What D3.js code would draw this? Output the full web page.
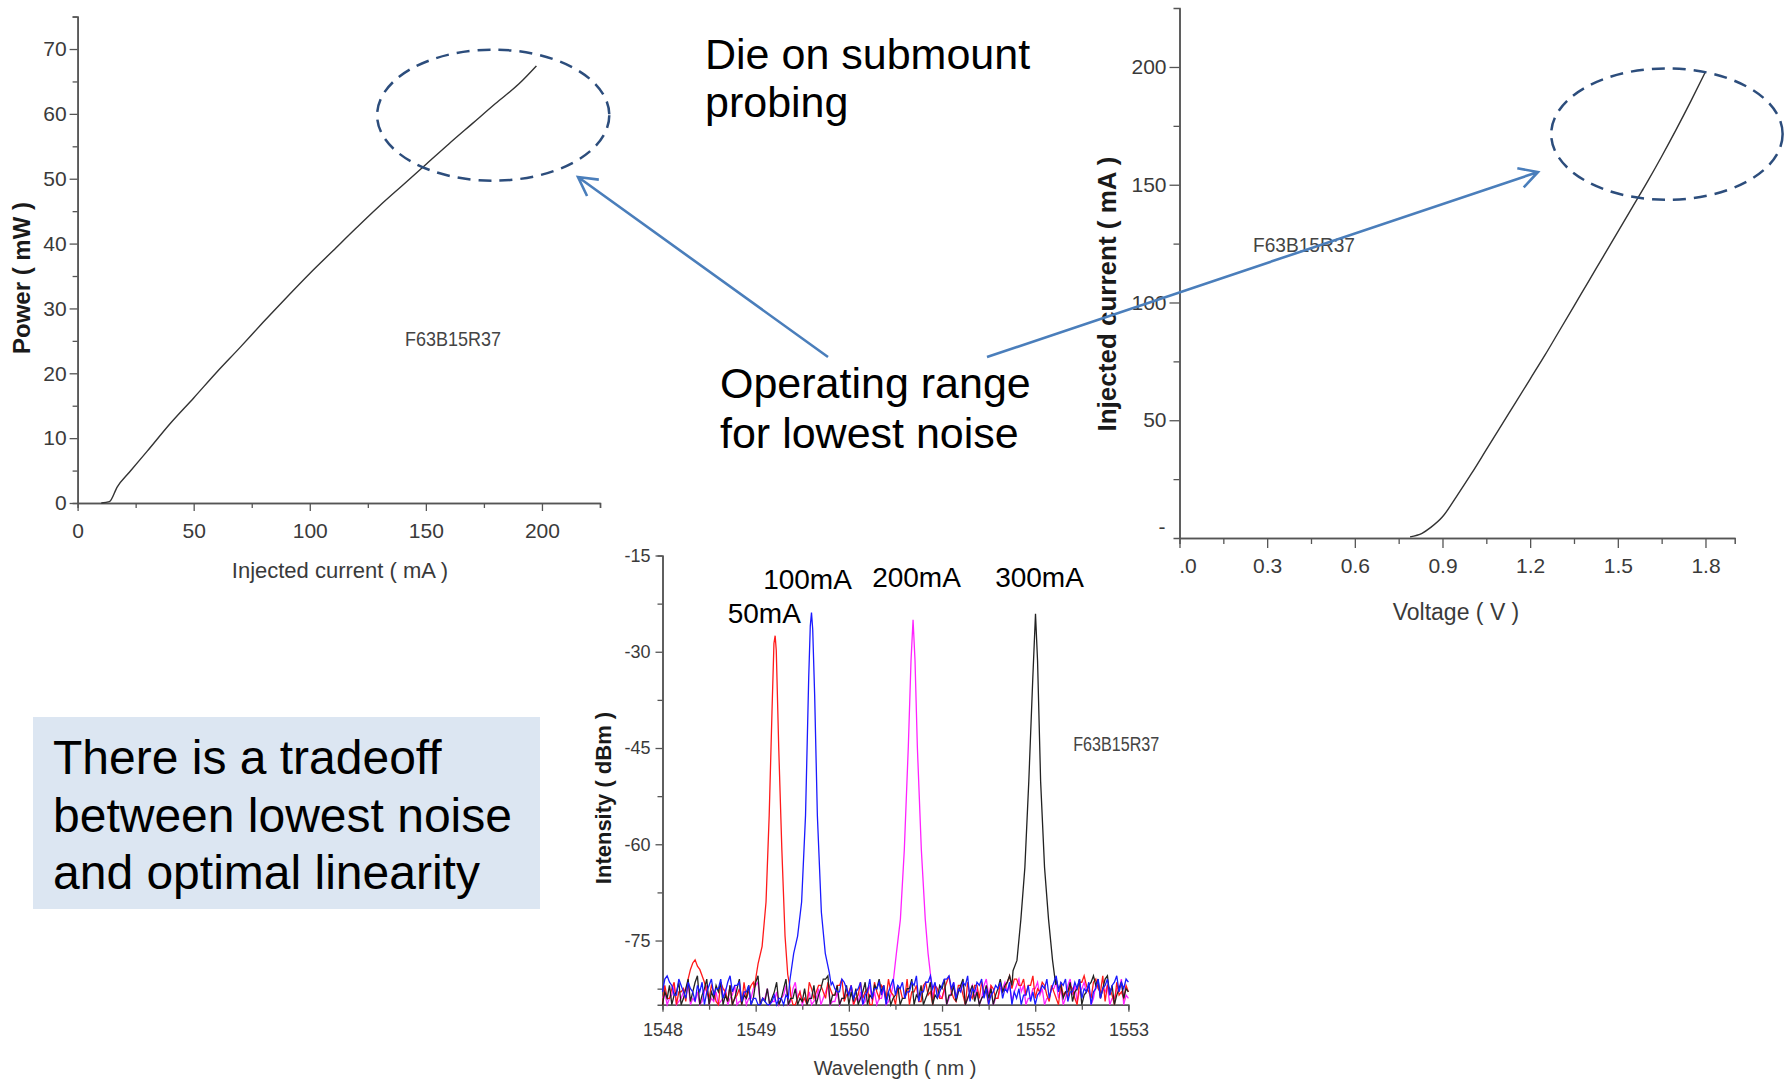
<!DOCTYPE html>
<html>
<head>
<meta charset="utf-8">
<script src="https://cdn.jsdelivr.net/npm/d3@7"></script>
<style>
body{margin:0;background:#fff;}
text{font-family:"Liberation Sans",Arial,sans-serif;}
</style>
</head>
<body>
<div id="svg_placer"></div>
<script>
// L-I curve (mA, mW)
var liCurrent = [10.2,13.7,17.1,22.2,30,40,50,60,70,80,90,100,110,120,130,140,150,160,170,180,190,197.6];
var liPower   = [0,0.2,2.5,4.7,8.0,12.3,16.2,20.2,24.0,27.9,31.7,35.4,38.9,42.4,45.8,49.0,52.2,55.4,58.5,61.6,64.6,67.4];
var liXTicks = [0,50,100,150,200], liXMinor = [25,75,125,175,225];
var liYTicks = [0,10,20,30,40,50,60,70], liYMinor = [5,15,25,35,45,55,65,75];

// I-V curve (V, mA)
var ivVoltage = [0.789,0.83,0.86,0.9,0.95,1.0,1.05,1.1,1.15,1.2,1.25,1.3,1.35,1.4,1.45,1.5,1.55,1.6,1.65,1.7,1.75,1.8];
var ivCurrent = [0.5,2,4.5,9,18,27.5,37.5,47.5,57.5,67.5,77.5,88,98.5,109,119.5,130,140.5,151,162,173.5,185.5,198];
var ivXTicks = [0,0.3,0.6,0.9,1.2,1.5,1.8], ivXMinor = [0.15,0.45,0.75,1.05,1.35,1.65];
var ivYTicks = [50,100,150,200], ivYMinor = [25,75,125,175];

// spectra: noise floor read every 0.05 nm from 1548 nm (A) and at the half steps (B)
var wlStart = 1548, wlStep = 0.05;
var specNames = ['50mA','100mA','200mA','300mA'];
var noise50A = [-85,-84,-82.5,-85,-83,-84.5,-79.5,-78,-79.5,-81.5,
 -84,-83,-85,-82.5,-84.5,-85,-83.5,-85,-84,-82,
 -84,-84,-84,-84,-84,-84,-84,-84,-85,-84,
 -84.5,-85,-82.5,-83,-82,-84,-82.5,-83.5,-82,-84.5,
 -83,-85,-83.5,-84,-82.5,-85,-83,-82,-84,-83,
 -85,-82.5,-84,-85,-83,-84.5,-82,-83.5,-85,-82.5,
 -84,-81.5,-83,-84.5,-82,-85,-83.5,-82,-84,-83,
 -85,-82.5,-84,-83,-81.5,-82.5,-81,-82,-83.5,-82,
 -84,-83,-82,-84.5,-83,-85,-83.5,-84,-82.5,-85,
 -81.5,-82,-84,-81,-83,-84.5,-82.5,-85,-83.5,-84,
 -83];
var noise50B = [-82,-84,-81.5,-83,-82.5,-81,-78.5,-79,-80.5,-83,
 -82,-84.5,-81.5,-83,-82,-84,-82.5,-81.5,-83,-81.5,
 -84,-84,-84,-84,-84,-84,-84,-83.5,-85,-83,
 -84,-81.5,-84,-82,-83,-81.5,-83.5,-82,-81,-83.5,
 -82,-84,-81.5,-83,-85,-81.5,-84,-82.5,-81,-83.5,
 -82.5,-84,-81,-83,-82,-84.5,-81.5,-83,-82,-84,
 -82.5,-80.5,-84,-82,-83.5,-81.5,-84,-82,-81.5,-83,
 -82,-84,-81.5,-82.5,-80.5,-81,-82,-81,-82,-80.5,
 -82.5,-81.5,-83.5,-82,-84,-81.5,-83,-82,-84,-81.5,
 -80.5,-83,-81.5,-82.5,-80.5,-82,-83.5,-81.5,-83,-82];
var noise100A = [-83,-80.5,-82,-83.5,-82,-84,-82.5,-84.5,-83,-85,
 -82,-83.5,-82.5,-84,-81.5,-83,-82,-84.5,-83,-85,
 -84,-85,-84.5,-85,-83.5,-84,-85,-84,-84,-84,
 -84,-84,-84,-84,-84,-84,-84,-82.5,-83,-81.5,
 -83.5,-84,-82.5,-85,-83,-84,-82.5,-83.5,-85,-82,
 -83.5,-82.5,-84,-83,-82,-84.5,-83,-81.5,-82.5,-84,
 -82,-81,-82.5,-84,-83,-82,-84.5,-83,-82,-84,
 -85,-83,-82.5,-84,-83,-85,-84,-85,-83.5,-84.5,
 -85,-83,-82.5,-84,-81.5,-83,-82,-84.5,-83,-82.5,
 -84,-83,-85,-82.5,-84,-82,-83.5,-81.5,-83,-82.5,
 -81.5];
var noise100B = [-81,-81.5,-83.5,-81,-83,-81.5,-83,-82,-81.5,-83,
 -81,-82.5,-81,-83,-80.5,-82,-81.5,-83,-82,-84,
 -85,-84,-85,-84.5,-85,-84,-83.5,-84,-84,-84,
 -84,-84,-84,-84,-84,-84,-81.5,-83,-81,-82.5,
 -82,-83,-81.5,-83.5,-81,-82.5,-81.5,-82,-83,-81,
 -82,-81.5,-83,-81.5,-80.5,-83,-81.5,-80.5,-81.5,-83,
 -81,-80.5,-81.5,-82.5,-81.5,-80.5,-82.5,-81.5,-81,-82.5,
 -83.5,-82,-81.5,-82.5,-81.5,-83,-82.5,-83.5,-82,-83,
 -83.5,-82,-81,-82.5,-80.5,-81.5,-81,-83,-81.5,-81,
 -82.5,-81.5,-83,-81,-82.5,-81,-82,-80.5,-81.5,-81];
var noise200A = [-84,-85,-83.5,-85,-84,-82.5,-85,-84.5,-85,-83,
 -85,-84.5,-85,-84,-85,-83.5,-85,-84.5,-85,-84,
 -82,-85,-84,-85,-84.5,-85,-83.5,-85,-82.5,-84,
 -85,-84.5,-85,-84,-85,-83,-85,-84.5,-85,-84,
 -83.5,-85,-84.5,-85,-83,-84.5,-85,-84,-85,-83.5,
 -84,-84,-84,-84,-84,-84,-84,-84,-84,-82.5,
 -84,-85,-83,-84.5,-82.5,-85,-83,-84,-85,-82,
 -83.5,-85,-84,-82.5,-83,-84.5,-82,-83,-85,-84,
 -82.5,-83.5,-85,-84,-82.5,-84,-85,-82,-83.5,-84.5,
 -82.5,-83,-85,-82,-84,-83,-85,-84,-82.5,-85,
 -84];
var noise200B = [-83,-84,-82,-84.5,-83,-81.5,-84,-83,-84.5,-82,
 -84,-83,-84.5,-82.5,-84,-82,-84.5,-83,-84,-82.5,
 -81.5,-84,-82.5,-84.5,-83,-84,-82,-84.5,-81.5,-83,
 -84,-83,-84.5,-82.5,-84,-82,-84.5,-83,-84,-82.5,
 -82,-84,-83,-84.5,-82,-83,-84,-82.5,-84.5,-82,
 -84,-84,-84,-84,-84,-84,-84,-84,-82,-83.5,
 -82.5,-84,-81.5,-83,-81.5,-84,-82,-82.5,-84,-81,
 -82,-84,-82.5,-81.5,-82,-83,-81,-82,-84,-82.5,
 -81.5,-82.5,-84,-82.5,-81.5,-82.5,-84,-81,-82,-83,
 -81.5,-82,-84,-81.5,-82.5,-82,-84,-82.5,-81,-83.5];
var noise300A = [-85,-84,-85,-83,-85,-82.5,-84.5,-81.5,-85,-82.5,
 -85,-84,-83,-85,-84.5,-85,-82.5,-85,-84,-85,
 -81.5,-85,-84.5,-85,-83,-85,-82.5,-85,-84,-85,
 -84.5,-85,-84,-85,-82.5,-81,-85,-83.5,-85,-84,
 -85,-84.5,-85,-83,-85,-84,-82.5,-83,-84.5,-85,
 -83.5,-85,-84,-82.5,-85,-84,-85,-83,-85,-84,
 -82.5,-85,-83.5,-84.5,-82,-85,-83,-84.5,-85,-83.5,
 -84,-85,-82.5,-83,-81.5,-82,-84,-84,-84,-84,
 -84,-84,-84,-84,-84,-82.5,-84,-83,-84.5,-82.5,
 -85,-83,-81.5,-82,-84,-81,-83.5,-85,-82.5,-84,
 -83];
var noise300B = [-83,-82,-83.5,-81.5,-84,-81,-83,-80.5,-83.5,-81,
 -83,-82,-81.5,-83.5,-82,-84,-81,-83.5,-82,-84,
 -80.5,-84,-82.5,-84,-81.5,-84,-81,-84,-82.5,-84,
 -82.5,-84,-82,-83.5,-81,-80.5,-83.5,-82,-84,-82,
 -83,-82.5,-84,-81.5,-83.5,-82,-81,-82,-83,-84,
 -82,-84,-82.5,-81,-83.5,-82,-84,-81.5,-83.5,-82,
 -81,-83.5,-82,-83,-81,-84,-82,-83,-84,-82,
 -82.5,-83.5,-81,-82,-80.5,-80.5,-84,-84,-84,-84,
 -84,-84,-84,-84,-81,-82,-83,-81.5,-83,-81,
 -83.5,-82,-80.5,-81,-82.5,-80.5,-82,-83.5,-81.5,-82.5];
// lasing peaks (nm, dBm)
var peakWl50 = [1548.984,1549.026,1549.069,1549.111,1549.145,1549.175,1549.196,1549.209,1549.221,1549.247,1549.281,1549.315,1549.344,1549.37];
var peakDb50 = [-82.4,-78.6,-75.9,-69.0,-55.5,-39.4,-28.7,-27.5,-29.8,-44.8,-60.9,-74.3,-80.3,-82.4];
var peakWl100 = [1549.366,1549.408,1549.45,1549.493,1549.535,1549.569,1549.586,1549.599,1549.612,1549.633,1549.662,1549.705,1549.747,1549.79,1549.81];
var peakDb100 = [-81.3,-77.0,-74.3,-69.0,-55.5,-34.1,-26.0,-23.9,-26.5,-36.8,-55.5,-70.6,-77.0,-80.0,-81.9];
var peakWl200 = [1550.468,1550.51,1550.553,1550.595,1550.638,1550.667,1550.689,1550.71,1550.735,1550.778,1550.82,1550.85,1550.88];
var peakDb200 = [-82.4,-77,-71.7,-60.9,-44.8,-31.4,-25,-31.4,-44.8,-60.9,-71.7,-77,-80.8];
var peakWl300 = [1551.762,1551.804,1551.846,1551.889,1551.931,1551.974,1552.003,1552.025,1552.058,1552.1,1552.143,1552.186,1552.22];
var peakDb300 = [-79.7,-78.1,-71.7,-63.6,-50.2,-34.1,-24.1,-31.4,-50.2,-63.6,-71.7,-78.1,-81.9];
// where the peak labels sit (nm, dBm)
var labelWl = [1548.70,1549.08,1550.25,1551.57];
var labelDb = [-25.5,-20.2,-19.9,-19.9];
var specXTicks = [1548,1549,1550,1551,1552,1553], specXMinor = [1548.5,1549.5,1550.5,1551.5,1552.5];
var specYTicks = [-15,-30,-45,-60,-75], specYMinor = [-22.5,-37.5,-52.5,-67.5,-82.5];

var specColors = ['#ff1a1a','#1a1aff','#ff22ff','#222222'];
var specOrder = [2,0,3,1];

var width = 1789, height = 1081;
var arrowBlue = '#4a7ebb', ringBlue = '#2c4d7c';

var svg = d3.select('#svg_placer').append('svg').attr('width',width).attr('height',height)
    .style('background','#fff');

function styleAxis(g, size){
    g.select('.domain').attr('stroke','#555').attr('stroke-width',1.5);
    g.selectAll('.tick line').attr('stroke','#555').attr('stroke-width',1.3);
    g.selectAll('.tick text').attr('fill','#3a3a3a').style('font-size',size+'px')
	.style('font-family','"Liberation Sans",Arial,sans-serif');
}

function drawAxes(x, y, o){
    var gx = svg.append('g').attr('transform','translate(0,'+y.range()[0]+')')
	.call(d3.axisBottom(x).tickValues(o.xMinor).tickSize(o.minor).tickFormat(''));
    styleAxis(gx, o.font);
    gx = svg.append('g').attr('transform','translate(0,'+y.range()[0]+')')
	.call(d3.axisBottom(x).tickValues(o.xTicks).tickSize(o.major).tickSizeOuter(0)
	      .tickPadding(o.xPad).tickFormat(o.xFmt));
    styleAxis(gx, o.font);
    var gy = svg.append('g').attr('transform','translate('+x.range()[0]+',0)')
	.call(d3.axisLeft(y).tickValues(o.yMinor).tickSize(o.minor).tickFormat(''));
    styleAxis(gy, o.font);
    gy = svg.append('g').attr('transform','translate('+x.range()[0]+',0)')
	.call(d3.axisLeft(y).tickValues(o.yTicks).tickSize(o.major).tickSizeOuter(0)
	      .tickPadding(o.yPad).tickFormat(o.yFmt));
    styleAxis(gy, o.font);
    return gx;
}

function stamp(x, y, vx, vy, size, len){
    svg.append('text').attr('x',x(vx)).attr('y',y(vy)).attr('dy','0.35em')
	.attr('text-anchor','middle').attr('textLength',len).attr('lengthAdjust','spacingAndGlyphs')
	.style('font-size',size+'px').attr('fill','#444').text('F63B15R37');
}

function title(txt, px, py, size, rot, bold){
    var t = svg.append('text').attr('text-anchor','middle')
	.style('font-size',size+'px').attr('fill', bold ? '#1a1a1a' : '#3a3a3a')
	.style('font-weight', bold ? 'bold' : 'normal').text(txt);
    if (rot) t.attr('transform','translate('+px+','+py+') rotate(-90)');
    else t.attr('x',px).attr('y',py);
}

// ---- L-I chart
var liX = d3.scaleLinear().domain([0,225]).range([77.6,600]);
var liY = d3.scaleLinear().domain([0,75]).range([503,16.6]);
drawAxes(liX, liY, {xTicks:liXTicks, xMinor:liXMinor, yTicks:liYTicks, yMinor:liYMinor,
		    major:8, minor:5, xPad:12, yPad:3, font:21, xFmt:String, yFmt:String});
svg.append('path').datum(d3.zip(liCurrent, liPower))
    .attr('d', d3.line().curve(d3.curveMonotoneX).x(function(d){return liX(d[0]);}).y(function(d){return liY(d[1]);}))
    .attr('fill','none').attr('stroke','#333').attr('stroke-width',1.4);
title('Injected current ( mA )', 340, 578, 22, false, false);
title('Power ( mW )', 30, 278, 24, true, true);
stamp(liX, liY, 161.7, 25.3, 21, 96);

// ---- I-V chart
var ivX = d3.scaleLinear().domain([0,1.9]).range([1179.5,1734.7]);
var ivY = d3.scaleLinear().domain([0,225]).range([538,8.1]);
var ivAxis = drawAxes(ivX, ivY, {xTicks:ivXTicks, xMinor:ivXMinor, yTicks:ivYTicks, yMinor:ivYMinor,
		    major:10, minor:6, xPad:10, yPad:3, font:21,
		    xFmt:function(d){return d === 0 ? '.0' : d3.format('.1f')(d);}, yFmt:String});
ivAxis.selectAll('.tick text').filter(function(d){return d === 0;}).attr('dx',8);
svg.append('text').attr('x',ivX(0)-14).attr('y',ivY(5)).attr('dy','0.35em').attr('text-anchor','end')
    .style('font-size','21px').attr('fill','#3a3a3a').text('-');
svg.append('path').datum(d3.zip(ivVoltage, ivCurrent))
    .attr('d', d3.line().curve(d3.curveMonotoneX).x(function(d){return ivX(d[0]);}).y(function(d){return ivY(d[1]);}))
    .attr('fill','none').attr('stroke','#333').attr('stroke-width',1.4);
title('Voltage ( V )', 1456, 620, 23, false, false);
title('Injected current ( mA )', 1116, 294, 26, true, true);
stamp(ivX, ivY, 0.426, 124.4, 21, 102);

// ---- spectra
var spX = d3.scaleLinear().domain([1548,1553]).range([662.5,1128.4]);
var spY = d3.scaleLinear().domain([-85,-15]).range([1004.7,555.5]);
drawAxes(spX, spY, {xTicks:specXTicks, xMinor:specXMinor, yTicks:specYTicks, yMinor:specYMinor,
		    major:7, minor:5, xPad:12, yPad:5, font:18, xFmt:String, yFmt:String});

function trace(noiseA, noiseB, pw, pd){
    var pts = [];
    function add(noise, off){
	noise.forEach(function(v, i){
	    var wl = Math.round((wlStart + off + i*wlStep)*1000)/1000;
	    if (wl < pw[0] || wl > pw[pw.length-1]) pts.push([wl, v]);
	});
    }
    add(noiseA, 0);
    add(noiseB, wlStep/2);
    pw.forEach(function(w, i){ pts.push([w, pd[i]]); });
    pts.sort(function(a, b){return a[0]-b[0];});
    return pts;
}
var traces = [trace(noise50A, noise50B, peakWl50, peakDb50), trace(noise100A, noise100B, peakWl100, peakDb100),
	      trace(noise200A, noise200B, peakWl200, peakDb200), trace(noise300A, noise300B, peakWl300, peakDb300)];
var spLine = d3.line().x(function(d){return spX(d[0]);}).y(function(d){return spY(d[1]);});
svg.append('g').selectAll('path').data(specOrder).enter().append('path')
    .attr('d', function(k){return spLine(traces[k]);})
    .attr('fill','none').attr('stroke', function(k){return specColors[k];}).attr('stroke-width',1.3);
svg.append('g').selectAll('text').data(specNames).enter().append('text')
    .attr('x', function(d, i){return spX(labelWl[i]);})
    .attr('y', function(d, i){return spY(labelDb[i]);})
    .style('font-size','28px').attr('fill','#000').text(function(d){return d;});
title('Wavelength ( nm )', 895, 1075, 20, false, false);
title('Intensity ( dBm )', 611, 798, 22, true, true);
stamp(spX, spY, 1552.87, -44.3, 20, 86);

// ---- callout box
svg.append('rect').attr('x',33).attr('y',717).attr('width',507).attr('height',192).attr('fill','#dce6f2');
var boxLines = ['There is a tradeoff','between lowest noise','and optimal linearity'];
svg.append('g').selectAll('text').data(boxLines).enter().append('text')
    .attr('x',53).attr('y', function(d, i){return 774 + i*57.5;})
    .style('font-size','48px').attr('fill','#000').text(function(d){return d;});

// ---- notes
function note(lines, x, y0, gap){
    svg.append('g').selectAll('text').data(lines).enter().append('text')
	.attr('x',x).attr('y', function(d, i){return y0 + i*gap;})
	.style('font-size','43px').attr('fill','#000').text(function(d){return d;});
}
note(['Die on submount','probing'], 705, 69, 48);
note(['Operating range','for lowest noise'], 720, 398, 50);

// ---- dashed rings on the operating range
svg.append('ellipse').attr('cx',liX(179)).attr('cy',liY(59.8))
    .attr('rx',liX(229)-liX(179)).attr('ry',liY(49.7)-liY(59.8))
    .attr('fill','none').attr('stroke',ringBlue).attr('stroke-width',2.5).attr('stroke-dasharray','13,8');
svg.append('ellipse').attr('cx',ivX(1.668)).attr('cy',ivY(171.5))
    .attr('rx',ivX(2.064)-ivX(1.668)).attr('ry',ivY(143.6)-ivY(171.5))
    .attr('fill','none').attr('stroke',ringBlue).attr('stroke-width',2.5).attr('stroke-dasharray','13,8');

// ---- arrows
function arrow(x1, y1, x2, y2){
    var a = Math.atan2(y2-y1, x2-x1), L = 21, s = 0.5;
    svg.append('path')
	.attr('d','M'+x1+','+y1+'L'+x2+','+y2+
	      'M'+(x2-L*Math.cos(a-s))+','+(y2-L*Math.sin(a-s))+'L'+x2+','+y2+
	      'L'+(x2-L*Math.cos(a+s))+','+(y2-L*Math.sin(a+s)))
	.attr('fill','none').attr('stroke',arrowBlue).attr('stroke-width',2.6);
}
arrow(828, 357, 578, 177);
arrow(987, 357, 1538, 172);
</script>
</body>
</html>
